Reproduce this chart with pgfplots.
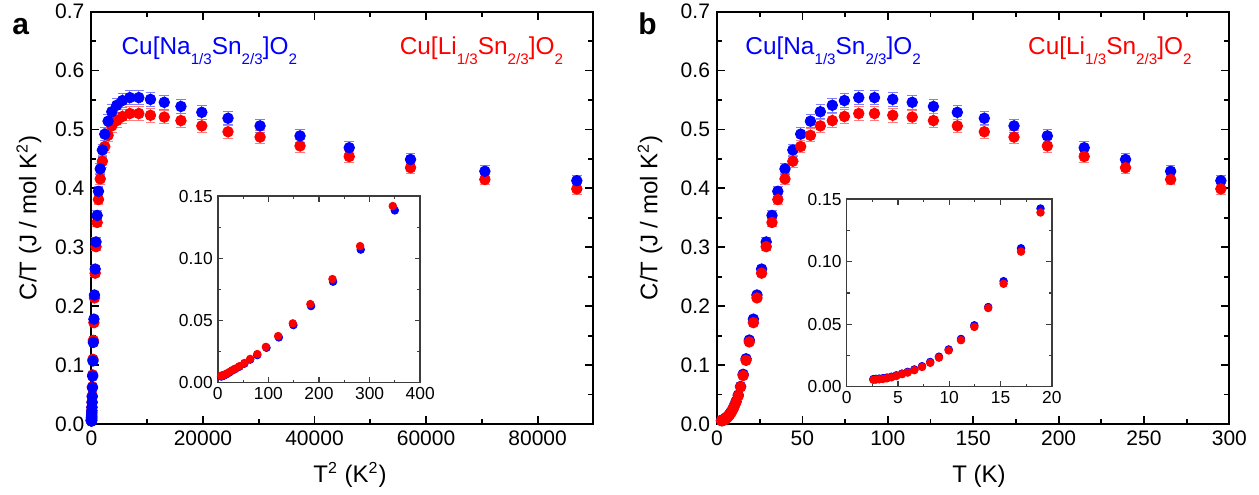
\documentclass[border=0pt]{standalone}
\usepackage{fontspec}
\setmainfont{Liberation Sans}
\usepackage{pgfplots}
\usepackage{pgfplotstable}
\pgfplotsset{compat=1.18}

\definecolor{myblue}{RGB}{0,0,255}
\definecolor{myred}{RGB}{255,0,0}
\definecolor{ebblue}{RGB}{125,125,255}
\definecolor{ebred}{RGB}{255,125,125}
\definecolor{insetframe}{RGB}{60,60,60}

\newcommand\sub[1]{\raisebox{-4.6pt}{\fontsize{7.6}{8}\selectfont #1}}
\newcommand\cmpfont{\fontsize{12.2}{14}\selectfont}

% Panel b: T (K) vs C/T
\pgfplotstableread{
T C
2.61 0.0061
2.87 0.0063
3.18 0.0065
3.54 0.0068
3.93 0.0073
4.37 0.0080
4.85 0.0091
5.40 0.0105
5.95 0.0119
6.60 0.0138
7.35 0.0164
8.15 0.0198
9.00 0.0240
9.95 0.0298
11.15 0.0382
12.45 0.0491
13.80 0.0637
15.30 0.0844
17.00 0.1107
18.90 0.1425
21.3 0.178
23.4 0.219
26.1 0.263
28.8 0.309
32.2 0.354
35.6 0.395
39.8 0.433
44.4 0.465
49.0 0.492
54.7 0.514
60.5 0.530
67.5 0.541
74.6 0.549
83.0 0.554
92.2 0.554
102.9 0.551
114.3 0.546
126.7 0.539
140.7 0.529
156.5 0.519
173.9 0.506
193.4 0.489
215.0 0.469
239.2 0.449
265.6 0.429
295.0 0.413
}\blueb

\pgfplotstableread{
T C
2.61 0.0055
2.87 0.0057
3.18 0.0059
3.54 0.0062
3.93 0.0067
4.37 0.0075
4.85 0.0086
5.40 0.0100
5.95 0.0113
6.60 0.0132
7.35 0.0158
8.15 0.0191
9.00 0.0232
9.95 0.0290
11.15 0.0372
12.45 0.0478
13.80 0.0629
15.30 0.0823
17.00 0.1080
18.90 0.1393
21.3 0.172
23.4 0.214
26.1 0.256
28.8 0.301
32.2 0.342
35.6 0.381
39.8 0.416
44.4 0.446
49.0 0.471
54.7 0.490
60.5 0.506
67.5 0.515
74.6 0.522
83.0 0.527
92.2 0.527
102.9 0.524
114.3 0.521
126.7 0.515
140.7 0.506
156.5 0.496
173.9 0.487
193.4 0.472
215.0 0.454
239.2 0.435
265.6 0.415
295.0 0.399
}\redb

% Panel a: T^2 (K^2) vs C/T
\pgfplotstableread{
T2 C
6.5 0.0050
8.0 0.0052
9.8 0.0055
12.0 0.0058
14.8 0.0063
18.3 0.0071
22.5 0.0081
28.5 0.0097
34.5 0.0110
42.5 0.0128
52.5 0.0153
64.0 0.0186
78.0 0.0222
96.2 0.0281
120.6 0.0364
149.4 0.0463
184.3 0.0616
227.8 0.0812
282.5 0.1070
349.8 0.1385
454 0.178
548 0.219
681 0.263
829 0.309
1037 0.354
1267 0.395
1584 0.433
1971 0.465
2401 0.492
2992 0.514
3660 0.530
4556 0.541
5565 0.549
6889 0.554
8501 0.554
10588 0.551
13064 0.546
16053 0.539
19796 0.529
24492 0.519
30241 0.506
37404 0.489
46225 0.469
57217 0.449
70543 0.429
87025 0.413
}\bluea

\pgfplotstableread{
T2 C
6.5 0.0055
8.0 0.0057
9.8 0.0059
12.0 0.0062
14.8 0.0067
18.3 0.0075
22.5 0.0085
28.5 0.0100
34.5 0.0113
42.5 0.0132
52.5 0.0158
64.0 0.0191
78.0 0.0230
95.0 0.0288
119.3 0.0375
148.2 0.0477
183.0 0.0632
226.6 0.0833
281.2 0.1098
345.8 0.1420
454 0.172
548 0.214
681 0.256
829 0.301
1037 0.342
1267 0.381
1584 0.416
1971 0.446
2401 0.471
2992 0.490
3660 0.506
4556 0.515
5565 0.522
6889 0.527
8501 0.527
10588 0.524
13064 0.521
16053 0.515
19796 0.506
24492 0.496
30241 0.487
37404 0.472
46225 0.454
57217 0.435
70543 0.415
87025 0.399
}\reda

\pgfplotsset{
  mainax/.style={
    scale only axis, height=206.2pt,
    ymin=0, ymax=0.7,
    ytick={0,0.1,0.2,0.3,0.4,0.5,0.6,0.7}, minor y tick num=1, minor x tick num=1,
    xtick pos=both, ytick pos=both, xticklabel pos=lower, yticklabel pos=left,
    tick align=inside,
    major tick length=4pt, minor tick length=2.5pt,
    every tick/.style={black, line width=0.9pt},
    axis line style={black, line width=1pt},
    tick label style={font=\fontsize{10.5}{12}\selectfont},
    /pgf/number format/assume math mode=true,
    yticklabel style={/pgf/number format/.cd, fixed, fixed zerofill, precision=1},
    xticklabel style={/pgf/number format/1000 sep={}},
    scaled ticks=false,
    clip=false,
  },
  insetax/.style={
    scale only axis,
    ymin=0, ymax=0.15, ytick={0,0.05,0.1,0.15}, minor y tick num=1, minor x tick num=1,
    xtick pos=both, ytick pos=both, xticklabel pos=lower, yticklabel pos=left,
    tick align=inside,
    major tick length=2.8pt, minor tick length=1.6pt,
    every tick/.style={insetframe, line width=0.6pt},
    axis line style={insetframe, line width=0.7pt},
    axis background/.style={fill=white},
    tick label style={font=\fontsize{8.7}{10}\selectfont},
    /pgf/number format/assume math mode=true,
    yticklabel style={/pgf/number format/.cd, fixed, fixed zerofill, precision=2, /tikz/xshift=1pt},
    xticklabel style={/tikz/yshift=1pt},
    scaled ticks=false,
    clip=false,
  },
  bluepts/.style={only marks, mark=*, mark size=#1, color=myblue, mark options={fill=myblue, draw=myblue}},
  redpts/.style={only marks, mark=*, mark size=#1, color=myred, mark options={fill=myred, draw=myred}},
  blueerr/.style={error bars/.cd, y dir=both, y fixed relative=0.022,
     error bar style={ebblue, line width=0.5pt},
     error mark options={ebblue, line width=0.5pt, mark size=2.4pt, rotate=90}},
  rederr/.style={error bars/.cd, y dir=both, y fixed relative=0.022,
     error bar style={ebred, line width=0.5pt},
     error mark options={ebred, line width=0.5pt, mark size=2.4pt, rotate=90}},
}

\begin{document}
\begin{tikzpicture}
\useasboundingbox (0,0) rectangle (629.5pt,247pt);

% ---------------- Panel a ----------------
\begin{axis}[mainax, at={(45.7pt,35pt)}, anchor=south west, width=251pt,
  xmin=0, xmax=90000, xtick={0,20000,40000,60000,80000}]
\addplot[redpts=2.65pt, rederr] table[x=T2, y=C] {\reda};
\addplot[bluepts=2.65pt, blueerr] table[x=T2, y=C] {\bluea};
\end{axis}

\begin{axis}[insetax, at={(108.9pt,55.65pt)}, anchor=south west, width=101.2pt, height=93.3pt,
  xmin=0, xmax=400, xtick={0,100,200,300,400}]
\addplot[bluepts=1.9pt, restrict x to domain=0:400] table[x=T2, y=C] {\bluea};
\addplot[redpts=1.9pt, restrict x to domain=0:400] table[x=T2, y=C] {\reda};
\end{axis}

% ---------------- Panel b ----------------
\begin{axis}[mainax, at={(358.5pt,35pt)}, anchor=south west, width=256.2pt,
  xmin=0, xmax=300, xtick={0,50,100,150,200,250,300}]
\addplot[bluepts=2.65pt, blueerr] table[x=T, y=C] {\blueb};
\addplot[redpts=2.65pt, rederr] table[x=T, y=C] {\redb};
\end{axis}

\begin{axis}[insetax, at={(423.3pt,53.65pt)}, anchor=south west, width=102.6pt, height=93.8pt,
  xmin=0, xmax=20, xtick={0,5,10,15,20}]
\addplot[bluepts=1.9pt, restrict x to domain=0:20] table[x=T, y=C] {\blueb};
\addplot[redpts=1.9pt, restrict x to domain=0:20] table[x=T, y=C] {\redb};
\end{axis}

% ---------------- Text ----------------
\node[anchor=base west, inner sep=0, font=\fontsize{15}{18}\selectfont\bfseries] at (6pt,229.5pt) {a};
\node[anchor=base west, inner sep=0, font=\fontsize{15}{18}\selectfont\bfseries] at (319pt,229.5pt) {b};

\node[anchor=base west, inner sep=0, text=myblue] at (60.6pt,219.5pt) {\cmpfont Cu[Na\sub{1/3}Sn\sub{2/3}]O\sub{2}};
\node[anchor=base west, inner sep=0, text=myred] at (199.7pt,219.5pt) {\cmpfont Cu[Li\sub{1/3}Sn\sub{2/3}]O\sub{2}};
\node[anchor=base west, inner sep=0, text=myblue] at (372.5pt,219.5pt) {\cmpfont Cu[Na\sub{1/3}Sn\sub{2/3}]O\sub{2}};
\node[anchor=base west, inner sep=0, text=myred] at (513.9pt,219.5pt) {\cmpfont Cu[Li\sub{1/3}Sn\sub{2/3}]O\sub{2}};

\node[anchor=base, inner sep=0, font=\fontsize{12}{14}\selectfont] at (175pt,6pt) {T\textsuperscript{2} (K\textsuperscript{2})};
\node[anchor=base, inner sep=0, font=\fontsize{12}{14}\selectfont] at (489.5pt,6pt) {T (K)};

\node[rotate=90, anchor=center, inner sep=0, font=\fontsize{12}{14}\selectfont] at (14.5pt,138pt) {C/T (J / mol K\textsuperscript{2})};
\node[rotate=90, anchor=center, inner sep=0, font=\fontsize{12}{14}\selectfont] at (325pt,138pt) {C/T (J / mol K\textsuperscript{2})};
\end{tikzpicture}
\end{document}
